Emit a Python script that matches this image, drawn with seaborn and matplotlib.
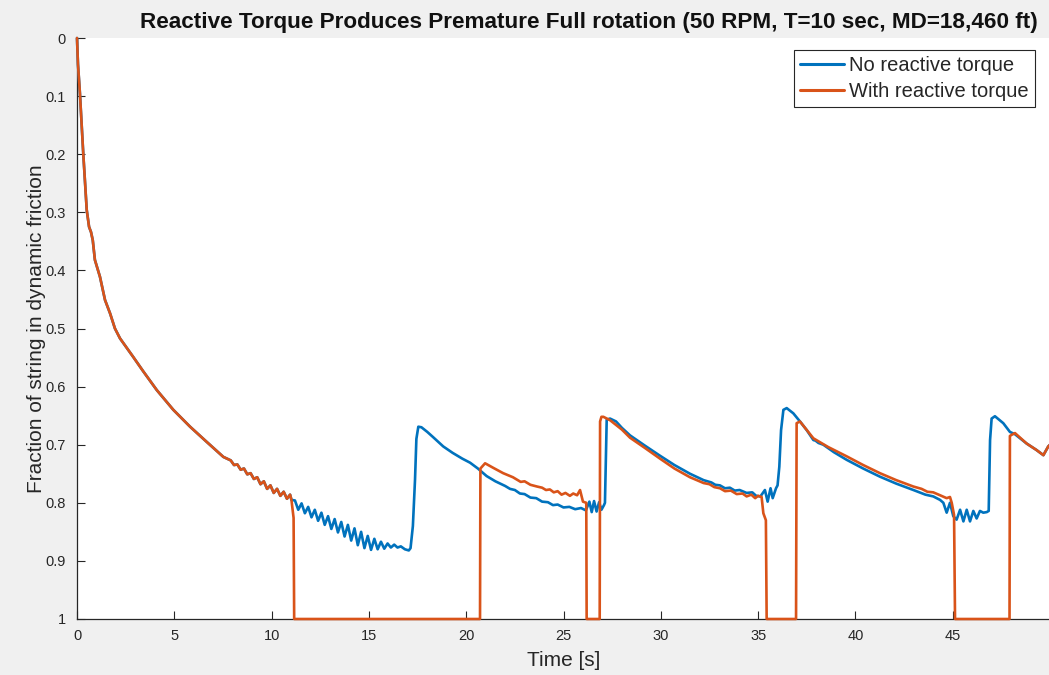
import seaborn as sns
import matplotlib.pyplot as plt
import pandas as pd

# --- dados ---
# trecho inicial comum às duas curvas (0 a ~11 s)
inicio_t = [0.0, 0.05, 0.15, 0.32, 0.5, 0.62, 0.72, 0.81, 0.92, 1.18, 1.44, 1.7, 1.95,
            2.21, 2.89, 3.41, 4.1, 4.95, 5.81, 6.66, 7.52, 7.9, 8.07, 8.24, 8.41, 8.58,
            8.75, 8.92, 9.09, 9.26, 9.43, 9.6, 9.77, 9.94, 10.11, 10.28, 10.45, 10.62,
            10.79, 10.95, 11.02]
inicio_y = [0.0, 0.045, 0.095, 0.198, 0.296, 0.325, 0.334, 0.348, 0.382, 0.411, 0.451, 0.474, 0.5,
            0.517, 0.549, 0.574, 0.606, 0.64, 0.669, 0.695, 0.721, 0.727, 0.735, 0.734, 0.743, 0.741,
            0.751, 0.749, 0.759, 0.756, 0.768, 0.763, 0.776, 0.77, 0.783, 0.776, 0.788, 0.781,
            0.793, 0.786, 0.795]

# sem torque reativo (azul)
sem_torque_t = [11.2, 11.37, 11.54, 11.71, 11.88, 12.05, 12.22, 12.39, 12.56, 12.73, 12.9, 13.07,
                13.24, 13.41, 13.58, 13.75, 13.92, 14.09, 14.26, 14.43, 14.6, 14.77, 14.94, 15.11,
                15.28, 15.45, 15.62, 15.79, 15.96, 16.13, 16.3, 16.47, 16.64, 16.85, 17.05, 17.14,
                17.26, 17.37, 17.44, 17.54, 17.7, 18.0, 18.3, 18.82, 19.3, 19.8, 20.2, 20.6, 21.05,
                21.5, 22.0, 22.25, 22.5, 22.76, 23.0, 23.3, 23.6, 23.9, 24.2, 24.46, 24.7, 25.0,
                25.3, 25.6, 25.9, 26.15, 26.33, 26.45, 26.57, 26.7, 26.83, 26.95, 27.08, 27.13,
                27.18, 27.22, 27.39, 27.7, 28.0, 28.42, 29.2, 29.96, 30.7, 31.5, 32.2, 32.6, 32.8,
                33.04, 33.3, 33.55, 33.8, 34.05, 34.41, 34.7, 34.9, 35.12, 35.35, 35.49, 35.64,
                35.75, 35.92, 36.0, 36.09, 36.18, 36.3, 36.47, 36.81, 37.2, 37.5, 37.84, 37.95,
                38.1, 38.35, 38.9, 39.55, 40.4, 41.26, 42.1, 42.98, 43.6, 44.0, 44.35, 44.52,
                44.69, 44.86, 45.03, 45.2, 45.38, 45.55, 45.72, 45.89, 46.06, 46.23, 46.4, 46.57,
                46.75, 46.85, 46.92, 47.0, 47.17, 47.6, 47.94, 48.2, 48.8, 49.3, 49.66, 49.91, 50.0]
sem_torque_y = [0.796, 0.812, 0.801, 0.818, 0.807, 0.825, 0.812, 0.831, 0.817, 0.838, 0.823, 0.845,
                0.828, 0.851, 0.833, 0.858, 0.838, 0.865, 0.844, 0.873, 0.85, 0.878, 0.857, 0.881,
                0.862, 0.88, 0.867, 0.879, 0.87, 0.877, 0.872, 0.877, 0.875, 0.88, 0.882, 0.878,
                0.84, 0.76, 0.69, 0.669, 0.67, 0.678, 0.687, 0.703, 0.714, 0.724, 0.731, 0.741, 0.754,
                0.763, 0.771, 0.776, 0.778, 0.784, 0.785, 0.791, 0.792, 0.798, 0.799, 0.804, 0.803, 0.808,
                0.807, 0.811, 0.809, 0.813, 0.798, 0.816, 0.797, 0.815, 0.799, 0.812, 0.804, 0.8,
                0.72, 0.657, 0.655, 0.66, 0.671, 0.684, 0.702, 0.719, 0.735, 0.75, 0.761, 0.765, 0.769,
                0.77, 0.775, 0.774, 0.779, 0.778, 0.783, 0.782, 0.788, 0.789, 0.778, 0.798, 0.775,
                0.792, 0.775, 0.77, 0.738, 0.675, 0.64, 0.637, 0.646, 0.662, 0.675, 0.692, 0.693,
                0.697, 0.7, 0.713, 0.726, 0.741, 0.755, 0.767, 0.778, 0.786, 0.789, 0.795, 0.8,
                0.817, 0.8, 0.823, 0.829, 0.812, 0.832, 0.812, 0.832, 0.814, 0.827, 0.814, 0.817,
                0.816, 0.814, 0.692, 0.655, 0.651, 0.663, 0.678, 0.682, 0.698, 0.709, 0.718, 0.703, 0.7]

# com torque reativo (laranja)
com_torque_t = [11.08, 11.13, 11.16, 20.71, 20.73, 20.97, 21.4, 21.9, 22.4, 22.8, 23.0, 23.3, 23.64,
                23.9, 24.1, 24.3, 24.5, 24.7, 24.9, 25.1, 25.33, 25.5, 25.7, 25.85, 26.0, 26.17,
                26.19, 26.86, 26.88, 26.95, 27.05, 27.4, 28.0, 28.42, 29.2, 29.96, 30.7, 31.5, 32.2,
                32.5, 32.75, 33.04, 33.3, 33.6, 33.9, 34.2, 34.41, 34.65, 34.85, 35.0, 35.18, 35.27,
                35.4, 35.44, 36.95, 36.98, 37.15, 37.84, 38.6, 39.55, 40.4, 41.26, 42.1, 42.98, 43.4,
                43.7, 44.0, 44.35, 44.69, 44.86, 44.95, 45.07, 45.12, 47.92, 47.94, 48.03, 48.2,
                48.8, 49.3, 49.66, 49.91, 50.0]
com_torque_y = [0.812, 0.826, 1.0, 1.0, 0.741, 0.732, 0.74, 0.749, 0.756, 0.764, 0.763, 0.769, 0.772,
                0.774, 0.778, 0.777, 0.782, 0.78, 0.786, 0.783, 0.788, 0.784, 0.787, 0.778, 0.798, 0.8,
                1.0, 1.0, 0.66, 0.652, 0.652, 0.658, 0.674, 0.688, 0.706, 0.724, 0.741, 0.756, 0.766,
                0.768, 0.773, 0.775, 0.78, 0.779, 0.785, 0.784, 0.789, 0.786, 0.792, 0.788, 0.79, 0.818,
                0.83, 1.0, 1.0, 0.663, 0.66, 0.689, 0.704, 0.72, 0.735, 0.749, 0.761, 0.772, 0.776,
                0.781, 0.782, 0.787, 0.792, 0.79, 0.8, 0.821, 1.0, 1.0, 0.685, 0.683, 0.68,
                0.698, 0.709, 0.718, 0.703, 0.7]

SERIES = ['No reactive torque', 'With reactive torque']
CORES = {'No reactive torque': '#0072BD', 'With reactive torque': '#D95319'}
TITULO = 'Reactive Torque Produces Premature Full rotation (50 RPM, T=10 sec, MD=18,460 ft)'
CINZA = '#262626'


def montar_tabela():
    """Junta as duas curvas num DataFrame longo para o seaborn."""
    azul = pd.DataFrame({'Time': inicio_t + sem_torque_t,
                         'Frac': inicio_y + sem_torque_y,
                         'Series': SERIES[0]})
    laranja = pd.DataFrame({'Time': inicio_t + com_torque_t,
                            'Frac': inicio_y + com_torque_y,
                            'Series': SERIES[1]})
    return pd.concat([azul, laranja], ignore_index=True)


def main():
    sns.set_style('ticks')
    plt.rcParams['font.family'] = ['Liberation Sans', 'DejaVu Sans']
    plt.rcParams['xtick.direction'] = 'in'
    plt.rcParams['ytick.direction'] = 'in'

    df = montar_tabela()

    fig = plt.figure(figsize=(10.49, 6.75), dpi=100, facecolor='#f0f0f0')
    ax = fig.add_axes([77 / 1049, 1 - 619 / 675, (1050 - 77) / 1049, (619 - 38) / 675])
    ax.set_facecolor('white')

    sns.lineplot(data=df, x='Time', y='Frac', hue='Series', hue_order=SERIES,
                 palette=CORES, estimator=None, sort=False, linewidth=1.9, ax=ax)
    for ln in ax.get_lines():
        ln.set_clip_on(False)
        ln.set_zorder(3)

    ax.set_xlim(0, 50)
    ax.set_ylim(1, 0)
    ax.set_xticks(list(range(0, 50, 5)))
    ax.set_yticks([0, 0.1, 0.2, 0.3, 0.4, 0.5, 0.6, 0.7, 0.8, 0.9, 1])
    ax.set_yticklabels(['0', '0.1', '0.2', '0.3', '0.4', '0.5', '0.6', '0.7', '0.8', '0.9', '1'])
    ax.tick_params(axis='both', length=6, width=0.8, colors=CINZA, labelsize=10.5)
    ax.tick_params(axis='y', pad=8)
    ax.tick_params(axis='x', pad=7)
    sns.despine(ax=ax)
    for lado in ['left', 'bottom']:
        ax.spines[lado].set_color(CINZA)
        ax.spines[lado].set_linewidth(0.9)

    ax.set_xlabel('Time [s]', fontsize=15, color=CINZA, labelpad=6)
    ax.set_ylabel('Fraction of string in dynamic friction', fontsize=15, color=CINZA, labelpad=0)
    ax.set_title(TITULO, fontsize=16.2, fontweight='bold', color='#111111', x=0.526, pad=7)

    handles, labels = ax.get_legend_handles_labels()
    for h in handles:
        h.set_linewidth(2.2)
    ax.legend(handles, labels, loc='upper right', bbox_to_anchor=(1035 / 1049, 1 - 50 / 675),
              bbox_transform=fig.transFigure, borderaxespad=0, fontsize=14.5, frameon=True,
              fancybox=False, framealpha=1, edgecolor=CINZA, handlelength=2.2,
              handletextpad=0.25, labelspacing=0.35, borderpad=0.3)
    ax.get_legend().get_frame().set_linewidth(0.8)

    fig.savefig('out.png', dpi=100, facecolor=fig.get_facecolor())


if __name__ == '__main__':
    main()
